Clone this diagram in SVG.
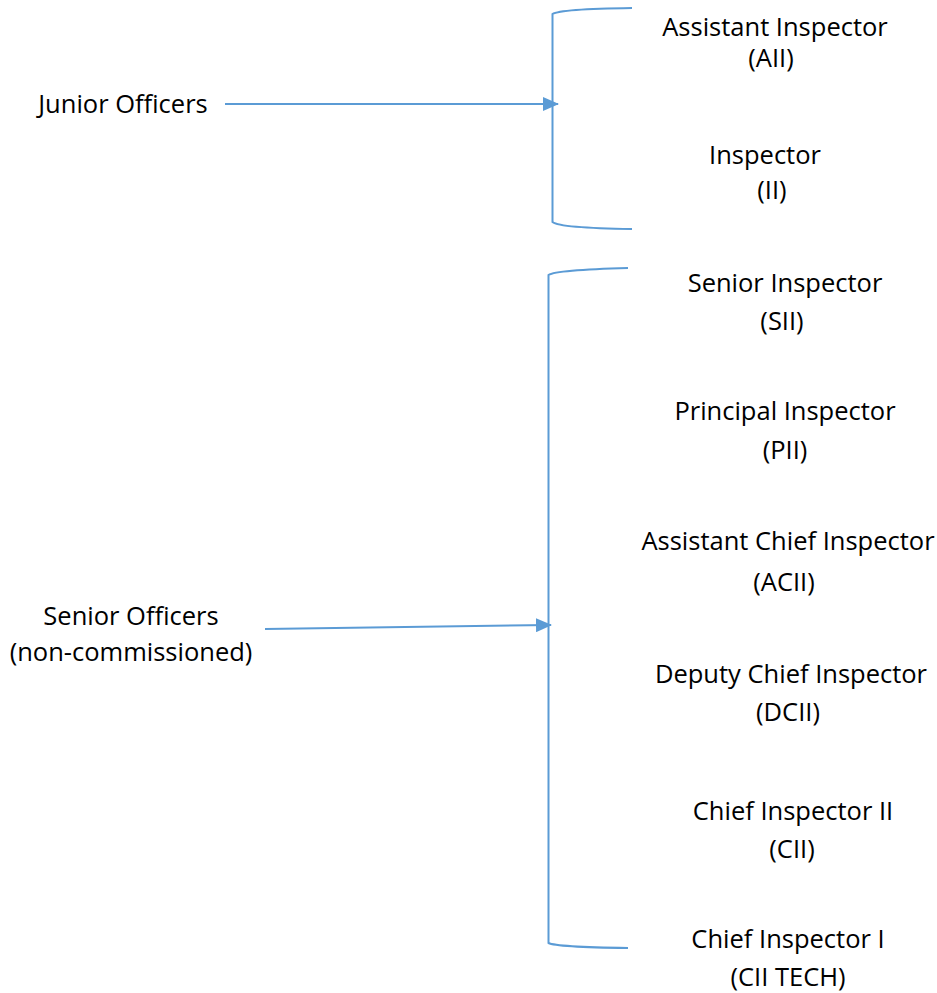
<svg xmlns="http://www.w3.org/2000/svg" width="937" height="993" viewBox="0 0 937 993">
<defs>
<style>
text{font-family:"Open Sans","Noto Sans","DejaVu Sans",sans-serif;font-size:25.5px;fill:#000;text-anchor:middle}
.c{fill:none;stroke:#5b9bd5;stroke-width:2}
</style>
<marker id="ah" markerWidth="16" markerHeight="14" refX="15" refY="7" orient="auto" markerUnits="userSpaceOnUse" viewBox="0 0 16 14">
<path d="M0,0 L16,7 L0,14 z" fill="#5b9bd5"/>
</marker>
</defs>
<rect width="937" height="993" fill="#fff"/>
<g id="connectors">
<path class="c" d="M632,8 Q560,9 552.5,14 L552.5,222 Q560,228 632,229"/>
<path class="c" d="M628,268 Q556,270 548.5,275 L548.5,943 Q556,947 628,948"/>
<line class="c" x1="225" y1="104" x2="558" y2="104" marker-end="url(#ah)"/>
<line class="c" x1="265" y1="629" x2="551" y2="625" marker-end="url(#ah)"/>
</g>
<g id="junior"><text x="123" y="113">Junior Officers</text></g>
<g id="senior"><text x="131" y="625">Senior Officers</text><text x="131" y="661">(non-commissioned)</text></g>
<g id="aii"><text x="775" y="36">Assistant Inspector</text><text x="771" y="67">(AII)</text></g>
<g id="ii"><text x="765" y="164">Inspector</text><text x="772" y="199">(II)</text></g>
<g id="sii"><text x="785" y="292">Senior Inspector</text><text x="782" y="330">(SII)</text></g>
<g id="pii"><text x="785" y="420">Principal Inspector</text><text x="785" y="459">(PII)</text></g>
<g id="acii"><text x="788" y="550">Assistant Chief Inspector</text><text x="784" y="591">(ACII)</text></g>
<g id="dcii"><text x="791" y="683">Deputy Chief Inspector</text><text x="788" y="721">(DCII)</text></g>
<g id="cii"><text x="793" y="820">Chief Inspector II</text><text x="792" y="858">(CII)</text></g>
<g id="ciitech"><text x="788" y="948">Chief Inspector I</text><text x="788" y="986">(CII TECH)</text></g>
</svg>
